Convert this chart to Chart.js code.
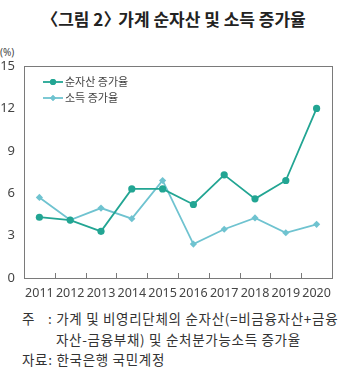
<!DOCTYPE html>
<html><head><meta charset="utf-8">
<script src="https://cdn.jsdelivr.net/npm/chart.js@4/dist/chart.umd.min.js"></script>
<style>
html,body{margin:0;padding:0;background:#fff;}
body{width:353px;height:378px;position:relative;overflow:hidden;font-family:"Noto Sans CJK KR","Noto Sans",sans-serif;}
#title{position:absolute;left:0;top:6px;width:353px;text-align:center;font-size:17px;font-weight:bold;color:#222;}
#title .ob{margin-left:-6px;}
#title .cb{margin-right:-6px;}
#unit{position:absolute;left:0px;top:45px;font-size:10px;color:#444;font-family:"Noto Sans",sans-serif;}
#wrap{position:absolute;left:0;top:0;width:353px;height:305px;}
.note{position:absolute;font-size:13.5px;line-height:20px;color:#333;white-space:nowrap;letter-spacing:0.7px;}
</style></head><body>
<div id="title"><span class="ob">〈</span>그림 2<span class="cb">〉</span> 가계 순자산 및 소득 증가율</div>
<div id="unit">(%)</div>
<div id="wrap"><canvas id="c" width="353" height="305"></canvas></div>
<div class="note" style="left:22px;top:308px;">주</div>
<div class="note" style="left:48px;top:308px;">: 가계 및 비영리단체의 순자산(=비금융자산+금융</div>
<div class="note" style="left:56px;top:329px;">자산-금융부채) 및 순처분가능소득 증가율</div>
<div class="note" style="left:22px;top:349px;">자료: 한국은행 국민계정</div>
<script>
const years = ["2011","2012","2013","2014","2015","2016","2017","2018","2019","2020"];
const netAssetGrowth = [4.3, 4.1, 3.3, 6.3, 6.3, 5.2, 7.3, 5.6, 6.9, 12.0];
const incomeGrowth = [5.7, 4.1, 4.95, 4.2, 6.9, 2.4, 3.45, 4.25, 3.2, 3.8];
const seriesNames = ["순자산 증가율", "소득 증가율"];
const yTicks = [0, 3, 6, 9, 12, 15];

const darkTeal = "#22a593";
const lightTeal = "#6fc3d0";

const framePlugin = {
  id: "frame",
  afterDraw(chart) {
    const {ctx, chartArea: a, scales: {x}} = chart;
    ctx.save();
    ctx.strokeStyle = "#7a7a7a";
    ctx.lineWidth = 1;
    ctx.strokeRect(Math.round(a.left) + 0.5, Math.round(a.top) + 0.5, Math.round(a.right - a.left), Math.round(a.bottom - a.top));
    for (let i = 1; i < years.length; i++) {
      const px = Math.round((x.getPixelForValue(i - 1) + x.getPixelForValue(i)) / 2) + 0.5;
      ctx.beginPath();
      ctx.moveTo(px, a.bottom);
      ctx.lineTo(px, a.bottom - 5);
      ctx.stroke();
    }
    const items = [
      {name: seriesNames[0], color: darkTeal, style: "circle", y: 82},
      {name: seriesNames[1], color: lightTeal, style: "rectRot", y: 98}
    ];
    ctx.font = "11px 'Noto Sans CJK KR'";
    ctx.textBaseline = "middle";
    items.forEach(it => {
      ctx.strokeStyle = it.color;
      ctx.lineWidth = 1.8;
      ctx.beginPath();
      ctx.moveTo(43, it.y);
      ctx.lineTo(63, it.y);
      ctx.stroke();
      ctx.fillStyle = it.color;
      Chart.helpers.drawPoint(ctx, {pointStyle: it.style, radius: 3, rotation: 0, borderWidth: 0}, 53, it.y);
      ctx.fill();
      ctx.fillStyle = "#444";
      ctx.fillText(it.name, 65, it.y);
    });
    ctx.restore();
  }
};

new Chart(document.getElementById("c"), {
  type: "line",
  data: {
    labels: years,
    datasets: [
      {label: seriesNames[0], data: netAssetGrowth, borderColor: darkTeal, backgroundColor: darkTeal,
       borderWidth: 1.8, pointStyle: "circle", pointRadius: 3.6, pointBorderWidth: 0, tension: 0},
      {label: seriesNames[1], data: incomeGrowth, borderColor: lightTeal, backgroundColor: lightTeal,
       borderWidth: 1.8, pointStyle: "rectRot", pointRadius: 3.6, pointBorderWidth: 0, tension: 0}
    ]
  },
  options: {
    responsive: false,
    animation: false,
    layout: {padding: {top: 66, right: 21, left: 0, bottom: 0}},
    plugins: {legend: {display: false}, tooltip: {enabled: false}},
    scales: {
      x: {
        offset: true,
        grid: {display: false, drawTicks: false},
        border: {display: false},
        ticks: {padding: 8, color: "#444", font: {family: "Noto Sans", size: 12.5}, maxRotation: 0, autoSkip: false},
        afterFit(s) { s.height = 27; }
      },
      y: {
        min: 0, max: 15,
        afterBuildTicks(s) { s.ticks = yTicks.map(v => ({value: v})); },
        grid: {display: false, drawTicks: false},
        border: {display: false},
        ticks: {padding: 9, color: "#444", font: {family: "Noto Sans", size: 13}},
        afterFit(s) { s.width = 24; }
      }
    }
  },
  plugins: [framePlugin]
});
</script>
</body></html>
